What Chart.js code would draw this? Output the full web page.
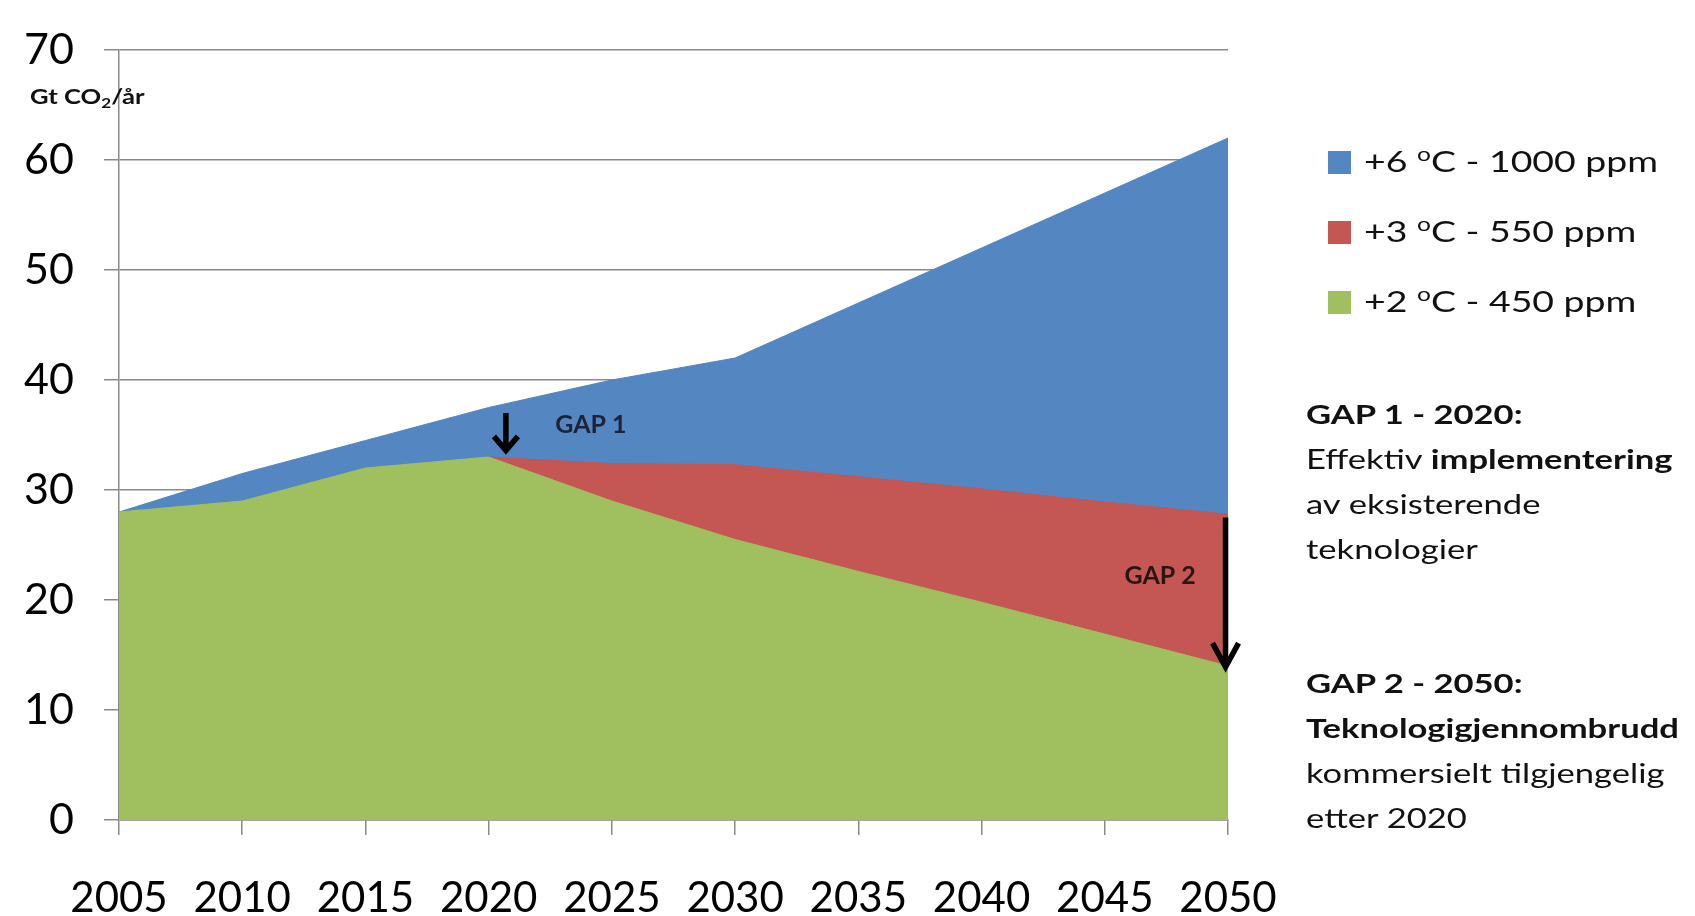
<!DOCTYPE html>
<html>
<head>
<meta charset="utf-8">
<script src="https://cdn.jsdelivr.net/npm/chart.js@4.4.1/dist/chart.umd.min.js"></script>
<style>
  html, body { margin: 0; padding: 0; background: #fff; }
  #wrap { position: relative; width: 1695px; height: 916px; font-family: Lato, "Noto Sans", sans-serif; color: #111; }
  #c { position: absolute; left: 0; top: 0; }
  .unit { position: absolute; left: 30px; top: 83px; font-size: 21px; font-weight: 700; white-space: nowrap; transform: scaleX(1.22); transform-origin: 0 0; }
  .unit sub { font-size: 14px; vertical-align: -4px; }
  #legend { position: absolute; left: 1328px; top: 140px; }
  .lg { position: relative; height: 70px; font-size: 29px; white-space: nowrap; }
  .lg i { position: absolute; left: 0; top: 11px; width: 23px; height: 23px; }
  .lg span { position: absolute; left: 36px; top: 2px; transform: scaleX(1.29); transform-origin: 0 0; }
  .lg sup { font-size: 19px; vertical-align: 11px; }
  .note { position: absolute; left: 1306px; font-size: 26px; line-height: 45px; white-space: nowrap; transform: scaleX(1.33); transform-origin: 0 0; }
</style>
</head>
<body>
<div id="wrap">
  <canvas id="c" width="1695" height="916"></canvas>
  <div class="unit">Gt CO<sub>2</sub>/år</div>
  <div id="legend"></div>
  <div class="note" style="top:392px"><b>GAP 1 - 2020:</b><br>Effektiv <b>implementering</b><br>av eksisterende<br>teknologier</div>
  <div class="note" style="top:661px"><b>GAP 2 - 2050:</b><br><b>Teknologigjennombrudd</b><br>kommersielt tilgjengelig<br>etter 2020</div>
</div>
<script>
  // Data (Gt CO2 per år)
  const years = [2005, 2010, 2015, 2020, 2025, 2030, 2035, 2040, 2045, 2050];
  const sixDeg = [28, 31.5, 34.5, 37.5, 40, 42, 47, 52, 57, 62];
  const threeDeg = [null, null, null, 33, 32.4, 32.3, 31.2, 30.1, 28.9, 27.8];
  const twoDeg = [28, 29, 32, 33, 29, 25.5, 22.6, 19.8, 16.9, 14];
  const yTicks = [0, 10, 20, 30, 40, 50, 60, 70];

  const seriesDeg = ["+6", "+3", "+2"];
  const seriesPpm = ["1000", "550", "450"];
  const colors = ["#5486C1", "#C45753", "#A0C05F"];

  // Piler og etiketter (år, verdi)
  const gapArrows = [
    { year: 2020.7, from: 37.0, to: 33.6, head: 12, headH: 14 },
    { year: 2049.9, from: 27.5, to: 13.9, head: 13, headH: 24 }
  ];
  const gapLabels = [
    { text: "GAP 1", year: 2022.7, value: 35.9, color: "#1c2338" },
    { text: "GAP 2", year: 2045.8, value: 22.2, color: "#2a1515" }
  ];

  const yearIdx = (y) => (y - years[0]) / (years[1] - years[0]);

  const gapPlugin = {
    id: "gaps",
    afterDatasetsDraw(chart) {
      const { ctx, scales: { x, y } } = chart;
      ctx.save();
      ctx.strokeStyle = "#000";
      ctx.lineWidth = 5.5;
      ctx.lineCap = "butt";
      ctx.lineJoin = "miter";
      gapArrows.forEach((a) => {
        const px = x.getPixelForValue(yearIdx(a.year));
        const y1 = y.getPixelForValue(a.from), y2 = y.getPixelForValue(a.to);
        ctx.beginPath();
        ctx.moveTo(px, y1);
        ctx.lineTo(px, y2 - 3);
        ctx.stroke();
        ctx.beginPath();
        ctx.moveTo(px - a.head, y2 - a.headH);
        ctx.lineTo(px, y2);
        ctx.lineTo(px + a.head, y2 - a.headH);
        ctx.stroke();
      });
      ctx.font = "bold 25px Lato, sans-serif";
      ctx.textBaseline = "middle";
      ctx.textAlign = "left";
      gapLabels.forEach((g) => {
        ctx.fillStyle = g.color;
        ctx.fillText(g.text, x.getPixelForValue(yearIdx(g.year)), y.getPixelForValue(g.value));
      });
      ctx.restore();
    }
  };

  const mk = (i, data, order) => ({
    label: seriesDeg[i] + " oC - " + seriesPpm[i] + " ppm",
    data,
    order,
    fill: "origin",
    backgroundColor: colors[i],
    borderColor: colors[i],
    borderWidth: 1,
    pointRadius: 0,
    tension: 0
  });

  new Chart(document.getElementById("c"), {
    type: "line",
    data: {
      labels: years,
      datasets: [mk(0, sixDeg, 3), mk(1, threeDeg, 2), mk(2, twoDeg, 1)]
    },
    options: {
      responsive: false,
      animation: false,
      events: [],
      layout: { padding: { left: 0, top: 50, right: 467, bottom: 0 } },
      plugins: { legend: { display: false }, tooltip: { enabled: false } },
      scales: {
        x: {
          type: "category",
          offset: false,
          grid: { display: true, drawOnChartArea: false, drawTicks: true, tickLength: 15, color: "#8a8a8a", lineWidth: 1.5 },
          border: { display: true, color: "#8a8a8a", width: 1.5 },
          ticks: { color: "#000", font: { family: "Lato", size: 42 }, padding: 38, maxRotation: 0, autoSkip: false },
          afterFit: (s) => { s.height = 96; }
        },
        y: {
          min: 0,
          max: 70,
          afterBuildTicks: (s) => { s.ticks = yTicks.map((v) => ({ value: v })); },
          grid: { color: "#8a8a8a", lineWidth: 1.5, tickLength: 15 },
          border: { display: true, color: "#8a8a8a", width: 1.5 },
          ticks: { color: "#000", font: { family: "Lato", size: 43 }, padding: 30 },
          afterFit: (s) => { s.width = 119; s.paddingTop = 0; s.paddingBottom = 0; }
        }
      }
    },
    plugins: [gapPlugin]
  });

  // Legende
  const legend = document.getElementById("legend");
  seriesDeg.forEach((d, i) => {
    const row = document.createElement("div");
    row.className = "lg";
    row.innerHTML = `<i style="background:${colors[i]}"></i><span>${d} <sup>o</sup>C - ${seriesPpm[i]} ppm</span>`;
    legend.appendChild(row);
  });
</script>
</body>
</html>
